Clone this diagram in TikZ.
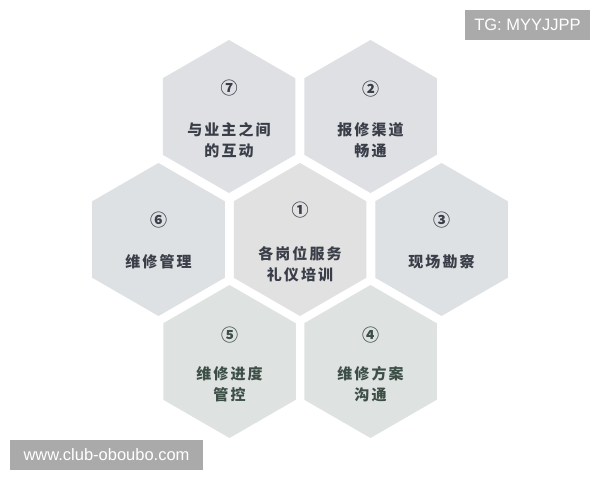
\documentclass[tikz,border=0pt]{standalone}
\usepackage{fontspec}
\usetikzlibrary{shapes.geometric}
\newfontfamily\cjk[LetterSpace=14]{Noto Sans CJK SC}
\newfontfamily\cjknum{Noto Sans CJK SC}
\setsansfont{Liberation Sans}
\definecolor{hexA}{HTML}{DFE0E4}
\definecolor{hexC}{HTML}{E2E1E1}
\definecolor{hexS}{HTML}{DDE1E3}
\definecolor{hexB}{HTML}{DEE2E0}
\definecolor{txtA}{HTML}{3A3E48}
\definecolor{txtB}{HTML}{3C4E45}
\definecolor{wm}{HTML}{AAAAAA}
\tikzset{
  hexnode/.style={regular polygon, regular polygon sides=6, shape border rotate=30,
    minimum size=153pt, inner sep=0pt, outer sep=0pt, draw=none, fill=#1},
  numlabel/.style={font=\cjknum\bfseries\fontsize{17}{18}\selectfont, text=#1},
  hextext/.style={font=\cjk\bfseries\fontsize{15}{21}\selectfont, text=#1, align=center},
  wmbox/.style={fill=wm, text=white, font=\sffamily\fontsize{16.5}{18}\selectfont, inner sep=0pt, anchor=center}
}
\begin{document}
\begin{tikzpicture}[x=1pt,y=-1pt]
\useasboundingbox (0,0) rectangle (600,480);
\fill[white] (0,0) rectangle (600,480);
% hexagons
\node[hexnode=hexA] (h7) at (229,116.5) {};
\node[hexnode=hexA] (h2) at (370.5,116.5) {};
\node[hexnode=hexS] (h6) at (158.5,239.5) {};
\node[hexnode=hexC] (h1) at (300,239.5) {};
\node[hexnode=hexS] (h3) at (441.5,239.5) {};
\node[hexnode=hexB] (h5) at (229.5,361.5) {};
\node[hexnode=hexB] (h4) at (370.5,361.5) {};
% labels
\node[numlabel=txtA] (n7) at (229,88) {⑦};
\node[hextext=txtA] (t7) at (229,140) {与业主之间\\的互动};
\node[numlabel=txtA] (n2) at (370.5,89) {②};
\node[hextext=txtA] (t2) at (370.5,140) {报修渠道\\畅通};
\node[numlabel=txtA] (n6) at (158.5,220) {⑥};
\node[hextext=txtA] (t6) at (158.5,262) {维修管理};
\node[numlabel=txtA] (n1) at (300,210) {①};
\node[hextext=txtA] (t1) at (300,264) {各岗位服务\\礼仪培训};
\node[numlabel=txtA] (n3) at (441.5,220) {③};
\node[hextext=txtA] (t3) at (441.5,262) {现场勘察};
\node[numlabel=txtB] (n5) at (229.5,335) {⑤};
\node[hextext=txtB] (t5) at (229.5,384) {维修进度\\管控};
\node[numlabel=txtB] (n4) at (370.5,335) {④};
\node[hextext=txtB] (t4) at (370.5,384) {维修方案\\沟通};
% watermarks
\node[wmbox, minimum width=125pt, minimum height=30pt] (wm1) at (527.5,25) {TG: MYYJJPP};
\node[wmbox, minimum width=193pt, minimum height=30pt] (wm2) at (106.5,455) {www.club-oboubo.com};
\end{tikzpicture}
\end{document}
